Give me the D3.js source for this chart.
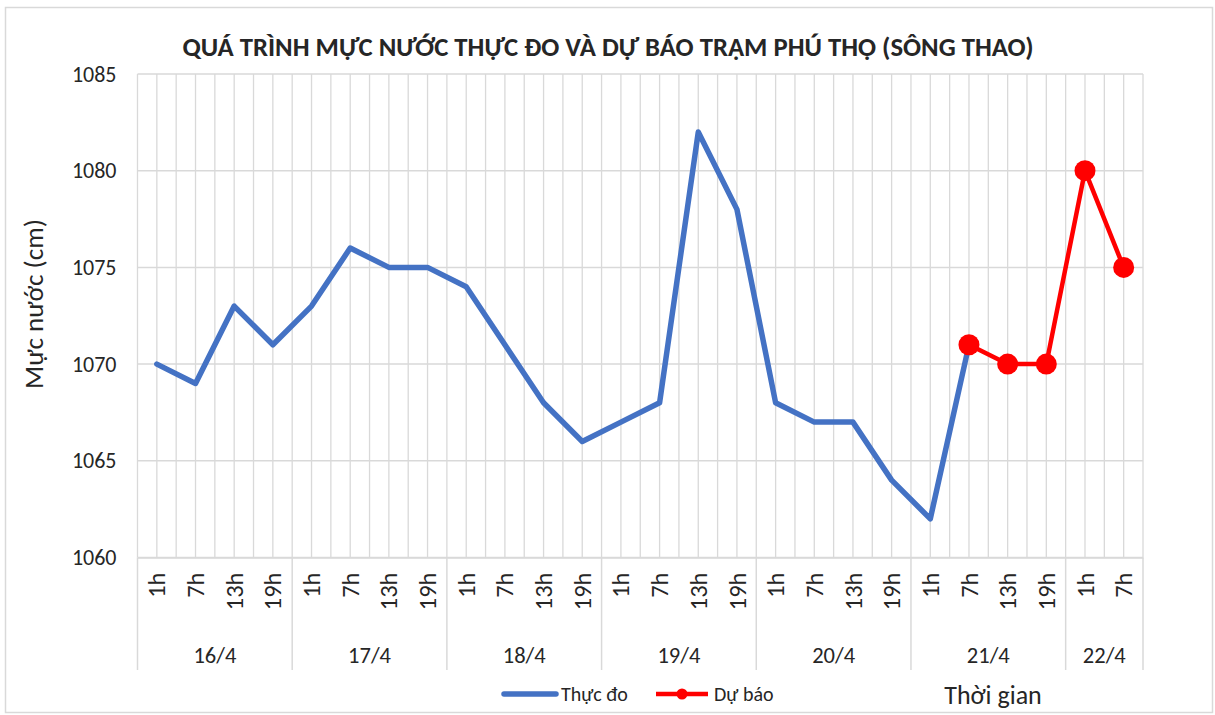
<!DOCTYPE html>
<html><head><meta charset="utf-8">
<script src="https://cdn.jsdelivr.net/npm/d3@7"></script>
<style>
body{margin:0;background:#fff;}
text{font-family:Carlito, Lato, "Open Sans", sans-serif;fill:#262626;}
</style></head>
<body><svg id="c" width="1215" height="715"></svg>
<script>
const days = ["16/4","17/4","18/4","19/4","20/4","21/4","22/4"];
const dayHours = [
  ["1h","7h","13h","19h"],["1h","7h","13h","19h"],["1h","7h","13h","19h"],
  ["1h","7h","13h","19h"],["1h","7h","13h","19h"],["1h","7h","13h","19h"],["1h","7h"]];
const observed = [1070,1069,1073,1071, 1073,1076,1075,1075, 1074,1071,1068,1066,
  1067,1068,1082,1078, 1068,1067,1067,1064, 1062,1071,null,null, null,null];
const forecast = [null,null,null,null, null,null,null,null, null,null,null,null,
  null,null,null,null, null,null,null,null, null,1071,1070,1070, 1080,1075];
const yTicks = [1060,1065,1070,1075,1080,1085];
const title = "QUÁ TRÌNH MỰC NƯỚC THỰC ĐO VÀ DỰ BÁO TRẠM PHÚ THỌ (SÔNG THAO)";
const yTitle = "Mực nước (cm)";
const xTitle = "Thời gian";
const seriesNames = ["Thực đo","Dự báo"];

const cats = [];
dayHours.forEach((hs,di)=>hs.forEach(h=>cats.push({key:days[di]+" "+h,hour:h,day:di})));

const svg = d3.select("#c");
const L=137.5, R=1143, T=74, B=557.5;
const x = d3.scaleBand().domain(cats.map(c=>c.key)).range([L,R]).padding(0);
const y = d3.scaleLinear().domain([1060,1085]).range([B,T]);
const bw = x.bandwidth();

// outer border
svg.append("rect").attr("x",5.5).attr("y",7.5).attr("width",1207).attr("height",705)
  .attr("fill","none").attr("stroke","#d9d9d9").attr("stroke-width",1.5);

// vertical gridlines (band edges and centers)
const vx = [];
cats.forEach(c=>{vx.push(x(c.key)); vx.push(x(c.key)+bw/2);});
vx.push(R);
svg.append("g").selectAll("line").data(vx).join("line")
  .attr("x1",d=>d).attr("x2",d=>d).attr("y1",T).attr("y2",B)
  .attr("stroke","#d9d9d9").attr("stroke-width",1.3);

// horizontal gridlines
svg.append("g").selectAll("line").data(yTicks).join("line")
  .attr("x1",L).attr("x2",R).attr("y1",d=>y(d)).attr("y2",d=>y(d))
  .attr("stroke","#d9d9d9").attr("stroke-width",1.5);

// y axis labels
const yAxis = d3.axisLeft(y).tickValues(yTicks).tickFormat(d3.format("d")).tickSize(0).tickPadding(21);
const gy = svg.append("g").attr("transform",`translate(${L},0)`).call(yAxis);
gy.select(".domain").remove();
gy.selectAll("text").attr("font-size",22).style("font-family","Carlito, Lato, sans-serif").attr("fill","#1f1f1f");

// x axis: hour labels
const xAxis = d3.axisBottom(x).tickFormat(k=>cats.find(c=>c.key===k).hour).tickSize(0);
const gx = svg.append("g").attr("transform",`translate(0,${B})`).call(xAxis);
gx.select(".domain").attr("stroke","#d9d9d9").attr("stroke-width",1.5);
gx.selectAll("text").attr("font-size",24.5).style("font-family","Carlito, Lato, sans-serif").attr("fill","#1f1f1f")
  .attr("transform","rotate(-90)").attr("text-anchor","end").attr("x",-15).attr("y",0).attr("dy","0.35em");

// group separators and day labels
const starts = [];
let idx=0;
dayHours.forEach(hs=>{starts.push(idx); idx+=hs.length;});
const bounds = starts.map(s=>x(cats[s].key)).concat([R]);
svg.append("g").selectAll("line").data(bounds).join("line")
  .attr("x1",d=>d).attr("x2",d=>d).attr("y1",B).attr("y2",670)
  .attr("stroke","#d9d9d9").attr("stroke-width",1.5);
svg.append("g").selectAll("text").data(days).join("text")
  .attr("x",(d,i)=>(bounds[i]+bounds[i+1])/2).attr("y",663)
  .attr("text-anchor","middle").attr("font-size",22.5).attr("fill","#1f1f1f").text(d=>d);

// lines
const line = d3.line().defined(d=>d.v!=null).x(d=>x(d.k)+bw/2).y(d=>y(d.v));
const obsData = cats.map((c,i)=>({k:c.key,v:observed[i]}));
const fcData = cats.map((c,i)=>({k:c.key,v:forecast[i]}));
svg.append("path").datum(obsData).attr("d",line).attr("fill","none")
  .attr("stroke","#4472C4").attr("stroke-width",5.5).attr("stroke-linejoin","round").attr("stroke-linecap","round");
svg.append("path").datum(fcData).attr("d",line).attr("fill","none")
  .attr("stroke","#FF0000").attr("stroke-width",4.5).attr("stroke-linejoin","round");
svg.append("g").selectAll("circle").data(fcData.filter(d=>d.v!=null)).join("circle")
  .attr("cx",d=>x(d.k)+bw/2).attr("cy",d=>y(d.v)).attr("r",10.5).attr("fill","#FF0000");

// title
svg.append("text").attr("x",608).attr("y",56).attr("text-anchor","middle")
  .attr("font-size",26.7).attr("font-weight","bold").attr("fill","#000").text(title);

// y title
svg.append("text").attr("transform","translate(43,304) rotate(-90)").attr("text-anchor","middle")
  .attr("font-size",27).attr("fill","#000").text(yTitle);

// x title
svg.append("text").attr("x",993).attr("y",704).attr("text-anchor","middle")
  .attr("font-size",26).attr("fill","#1f1f1f").text(xTitle);

// legend
const lg = svg.append("g");
lg.append("line").attr("x1",504).attr("x2",556).attr("y1",694).attr("y2",694)
  .attr("stroke","#4472C4").attr("stroke-width",5.5).attr("stroke-linecap","round");
lg.append("text").attr("x",561).attr("y",701).attr("font-size",20).attr("fill","#1f1f1f").text(seriesNames[0]);
lg.append("line").attr("x1",656).attr("x2",708).attr("y1",694).attr("y2",694)
  .attr("stroke","#FF0000").attr("stroke-width",4.5);
lg.append("circle").attr("cx",682).attr("cy",694).attr("r",5.5).attr("fill","#FF0000");
lg.append("text").attr("x",714).attr("y",701).attr("font-size",20).attr("fill","#1f1f1f").text(seriesNames[1]);
</script></body></html>
